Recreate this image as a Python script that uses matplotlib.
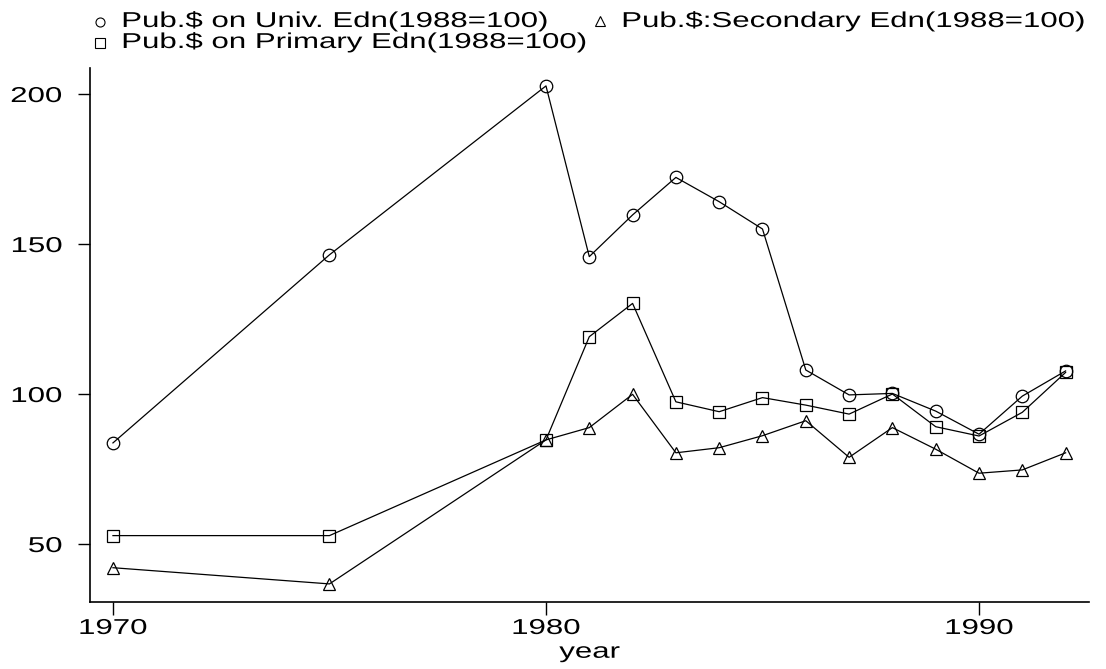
import matplotlib
matplotlib.use("Agg")
import matplotlib.pyplot as plt
from matplotlib.patheffects import AbstractPathEffect
from matplotlib.transforms import Affine2D
from matplotlib.lines import Line2D

years = [1970, 1975, 1980, 1981, 1982, 1983, 1984, 1985, 1986, 1987, 1988, 1989, 1990, 1991, 1992]
univ = [83.7, 146.4, 202.7, 145.8, 159.7, 172.2, 164.1, 155.0, 108.0, 99.7, 100.2, 94.3, 86.6, 99.3, 107.7]
secondary = [42.1, 36.7, 84.7, 88.8, 99.9, 80.4, 82.1, 86.1, 91.1, 78.9, 88.8, 81.6, 73.6, 74.7, 80.4]
primary = [52.8, 52.8, 84.7, 119.1, 130.2, 97.4, 94.1, 98.8, 96.3, 93.3, 100.0, 89.1, 86.0, 93.9, 107.2]

labels = ["Pub.$ on Univ. Edn(1988=100)",
          "Pub.$:Secondary Edn(1988=100)",
          "Pub.$ on Primary Edn(1988=100)"]
markers = ["o", "^", "s"]
xticks = [1970, 1980, 1990]
yticks = [50, 100, 150, 200]

plt.rcParams["font.family"] = ["Liberation Sans", "DejaVu Sans"]
FS = 15.5
SX = 1.45  # the original text is drawn wide


class HStretch(AbstractPathEffect):
    # stretch glyphs horizontally around the left / centre / right edge
    def __init__(self, sx, anchor="left"):
        super().__init__()
        self.sx = sx
        self.anchor = anchor

    def draw_path(self, renderer, gc, tpath, affine, rgbFace=None):
        ext = affine.transform_path(tpath).get_extents()
        if self.anchor == "left":
            x0 = ext.x0
        elif self.anchor == "right":
            x0 = ext.x1
        else:
            x0 = (ext.x0 + ext.x1) / 2
        t = affine + Affine2D().translate(-x0, 0).scale(self.sx, 1).translate(x0, 0)
        renderer.draw_path(gc, tpath, t, rgbFace)


W, H = 1106, 669
fig = plt.figure(figsize=(W / 100, H / 100), dpi=100)
ax = fig.add_axes([90 / W, 1 - 602 / H, 999 / W, 534 / H])

for vals, m in zip([univ, secondary, primary], markers):
    ax.plot(years, vals, color="black", lw=0.9, marker=m, markersize=9,
            markerfacecolor="none", markeredgecolor="black", markeredgewidth=0.9)

ax.set_xlim(1969.47, 1992.54)
ax.set_ylim(30.67, 208.67)
ax.set_xticks(xticks)
ax.set_yticks(yticks)
ax.spines["top"].set_visible(False)
ax.spines["right"].set_visible(False)
ax.spines["left"].set_linewidth(1.2)
ax.spines["bottom"].set_linewidth(1.2)
ax.tick_params(axis="both", direction="out", length=9, width=1.0, labelsize=FS)
ax.tick_params(axis="x", pad=2.5)
ax.tick_params(axis="y", pad=11)
for lbl in ax.get_yticklabels():
    lbl.set_path_effects([HStretch(SX, "right")])
for lbl in ax.get_xticklabels():
    lbl.set_path_effects([HStretch(SX, "center")])

ax.set_xlabel("year", fontsize=FS, labelpad=2)
ax.xaxis.label.set_path_effects([HStretch(SX, "center")])

# key above the plot, two columns
key_pos = [(100, 21.7, 122, 27), (600, 20.7, 622, 27), (100, 43, 122, 48)]
for lab, m, (mx, my, tx, ty) in zip(labels, markers, key_pos):
    fig.add_artist(Line2D([mx / W], [1 - my / H], transform=fig.transFigure,
                          marker=m, markersize=6.5, markerfacecolor="none",
                          markeredgecolor="black", markeredgewidth=0.8, lw=0))
    t = fig.text(tx / W, 1 - ty / H, lab, fontsize=FS, va="baseline", ha="left")
    t.set_path_effects([HStretch(SX, "left")])

fig.savefig("out.png", dpi=100)
